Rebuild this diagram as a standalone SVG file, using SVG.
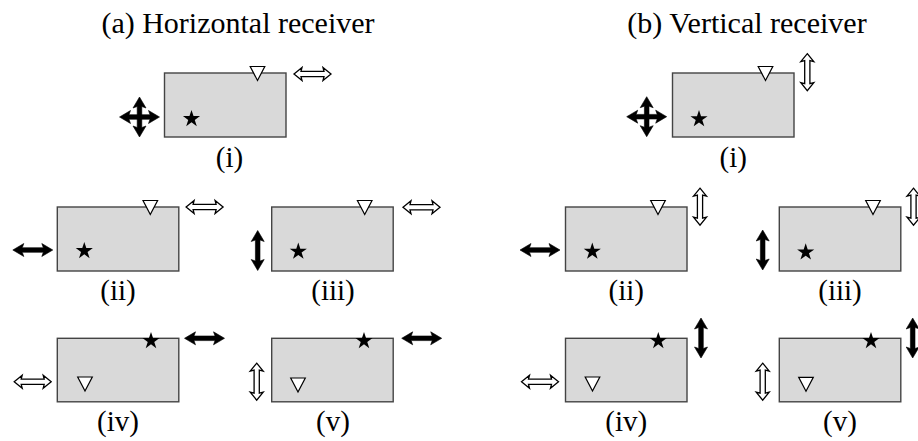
<svg xmlns="http://www.w3.org/2000/svg" xmlns:xlink="http://www.w3.org/1999/xlink" width="918" height="441" viewBox="0 0 918 441">
<style>
.box{fill:#d9d9d9;stroke:#444;stroke-width:1.4}
.title{font-family:"Liberation Serif","Times New Roman",serif;font-size:30px;fill:#000;text-anchor:middle}
.lab{font-family:"Liberation Serif","Times New Roman",serif;font-size:29px;fill:#000;text-anchor:middle}
.blk{fill:#000;stroke:#000;stroke-width:0.6;stroke-linejoin:round}
.hol{fill:#fff;stroke:#000;stroke-width:1.3;stroke-linejoin:miter}
.rx{fill:#fff;stroke:#000;stroke-width:1.2}
.star{fill:#000}
</style>
<defs>
<path id="ba" class="blk" d="M-20,0 L-9,-6.5 L-10.5,-2.3 L10.5,-2.3 L9,-6.5 L20,0 L9,6.5 L10.5,2.3 L-10.5,2.3 L-9,6.5 Z"/>
<path id="ha" class="hol" d="M-18.5,0 L-10.5,-6.5 L-11.5,-2.6 L11.5,-2.6 L10.5,-6.5 L18.5,0 L10.5,6.5 L11.5,2.6 L-11.5,2.6 L-10.5,6.5 Z"/>
<g id="fw"><use xlink:href="#ba"/><use xlink:href="#ba" transform="rotate(90)"/></g>
<polygon id="st" class="star" points="0,-9 2.02,-2.78 8.56,-2.78 3.27,1.06 5.29,7.28 0,3.44 -5.29,7.28 -3.27,1.06 -8.56,-2.78 -2.02,-2.78"/>
<polygon id="tr" class="rx" points="-7.3,-7 7.3,-7 0,7"/>
</defs>

<text class="title" x="238" y="33">(a) Horizontal receiver</text>
<text class="title" x="747" y="33">(b) Vertical receiver</text>

<g id="a-i">
<rect class="box" x="164.5" y="73" width="121.5" height="64"/>
<use xlink:href="#tr" x="257.5" y="73.5"/>
<use xlink:href="#st" x="191.5" y="118.9"/>
<use xlink:href="#fw" transform="translate(139.5,117)"/>
<use xlink:href="#ha" x="312.5" y="74"/>
<text class="lab" x="229.5" y="166.5">(i)</text>
</g>

<g id="b-i">
<rect class="box" x="672.5" y="73" width="121.5" height="64"/>
<use xlink:href="#tr" x="765.5" y="73.5"/>
<use xlink:href="#st" x="699" y="119"/>
<use xlink:href="#fw" transform="translate(646.7,116.7)"/>
<use xlink:href="#ha" transform="translate(807.3,72.2) rotate(90)"/>
<text class="lab" x="733.3" y="166.5">(i)</text>
</g>

<g id="a-ii">
<rect class="box" x="57.3" y="207" width="121.5" height="64"/>
<use xlink:href="#tr" x="150.3" y="207.5"/>
<use xlink:href="#st" x="84.3" y="250.9"/>
<use xlink:href="#ba" x="32.8" y="250"/>
<use xlink:href="#ha" x="204.6" y="207"/>
<text class="lab" x="118" y="300">(ii)</text>
</g>

<g id="a-iii">
<rect class="box" x="271.7" y="207" width="121.5" height="64"/>
<use xlink:href="#tr" x="364.7" y="207.5"/>
<use xlink:href="#st" x="298.3" y="251.5"/>
<use xlink:href="#ba" transform="translate(257.7,250.5) rotate(90)"/>
<use xlink:href="#ha" x="421.5" y="207.3"/>
<text class="lab" x="333" y="300">(iii)</text>
</g>

<g id="b-ii">
<rect class="box" x="565.5" y="207" width="121.5" height="64"/>
<use xlink:href="#tr" x="658" y="207.5"/>
<use xlink:href="#st" x="592.3" y="251.5"/>
<use xlink:href="#ba" x="540" y="250"/>
<use xlink:href="#ha" transform="translate(700,206.7) rotate(90)"/>
<text class="lab" x="626.3" y="300">(ii)</text>
</g>

<g id="b-iii">
<rect class="box" x="779.3" y="207" width="121.5" height="64"/>
<use xlink:href="#tr" x="873" y="207.5"/>
<use xlink:href="#st" x="805.7" y="252.3"/>
<use xlink:href="#ba" transform="translate(762.7,250) rotate(90)"/>
<use xlink:href="#ha" transform="translate(913.5,206.7) rotate(90)"/>
<text class="lab" x="840" y="300">(iii)</text>
</g>

<g id="a-iv">
<rect class="box" x="57.3" y="338.3" width="121.5" height="63.5"/>
<use xlink:href="#st" x="151" y="340.9"/>
<use xlink:href="#tr" x="85" y="384"/>
<use xlink:href="#ha" x="32.7" y="381.7"/>
<use xlink:href="#ba" x="204.5" y="338.3"/>
<text class="lab" x="118" y="431">(iv)</text>
</g>

<g id="a-v">
<rect class="box" x="271.7" y="338.3" width="121.5" height="63.5"/>
<use xlink:href="#st" x="364" y="340.9"/>
<use xlink:href="#tr" x="298" y="385"/>
<use xlink:href="#ha" transform="translate(256.7,381.7) rotate(90)"/>
<use xlink:href="#ba" x="421.7" y="338.3"/>
<text class="lab" x="333" y="431">(v)</text>
</g>

<g id="b-iv">
<rect class="box" x="565.5" y="338.3" width="121.5" height="63.5"/>
<use xlink:href="#st" x="658.3" y="340.9"/>
<use xlink:href="#tr" x="592.5" y="384"/>
<use xlink:href="#ha" x="540" y="381.7"/>
<use xlink:href="#ba" transform="translate(701,338) rotate(90)"/>
<text class="lab" x="626.3" y="431">(iv)</text>
</g>

<g id="b-v">
<rect class="box" x="779.3" y="338.3" width="121.5" height="63.5"/>
<use xlink:href="#st" x="871" y="340.9"/>
<use xlink:href="#tr" x="806" y="384.3"/>
<use xlink:href="#ha" transform="translate(762.7,381.7) rotate(90)"/>
<use xlink:href="#ba" transform="translate(912.7,338) rotate(90)"/>
<text class="lab" x="840" y="431">(v)</text>
</g>

<g id="connectors"/>
</svg>
